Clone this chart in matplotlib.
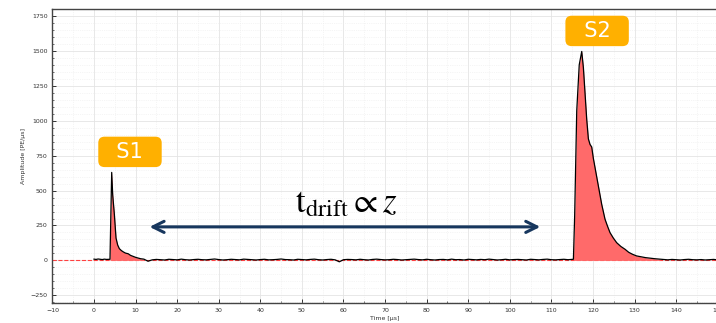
import numpy as np
import matplotlib.pyplot as plt
from matplotlib.ticker import MultipleLocator

plt.rcParams['mathtext.fontset'] = 'stix'

# waveform pieces (time in us, amplitude in PE/us)
pre_t = [0.0, 0.5, 1.0, 1.5, 2.0, 2.5, 3.0, 3.5]
pre_a = [9, 7, 10, 8, 6, 9, 7, 8]

s1_t = [3.85, 4.05, 4.26, 4.5, 4.9, 5.3, 5.7, 6.1, 6.6, 7.1, 7.6, 8.2, 8.8, 9.4, 10.0, 10.6, 11.2, 12.0]
s1_a = [8, 300, 630, 470, 330, 160, 110, 84, 70, 60, 52, 48, 36, 29, 22, 17, 12, 9]

drift_t = list(range(13, 115))
drift_a = [-6, 4, 7, 5, 3, 8, 6, 4, 9, 5, 3, 6, 8, 5, 4, 7, 10, 6, 3, 5,
           8, 6, 4, 9, 7, 5, 3, 6, 8, 4, 5, 7, 10, 6, 5, 3, 8, 6, 4, 7,
           9, 5, 3, 6, 8, 4, -10, 5, 7, 6, 4, 8, 5, 3, 7, 9, 6, 4, 5, 8,
           6, 3, 5, 7, 9, 6, 4, 8, 5, 3, 6, 7, 4, 9, 5, 6, 3, 8, 6, 4,
           7, 5, 9, 6, 3, 5, 8, 4, 6, 7, 5, 3, 8, 6, 4, 7, 9, 5, 4, 6,
           8, 5]

s2_t = [115.3, 115.6, 116.1, 116.7, 117.3, 117.7, 118.1, 118.5, 118.9, 119.3, 119.7,
        120.1, 120.5, 121.3, 122.1, 122.9, 123.5, 124.1, 124.9, 125.7, 126.7,
        127.7, 128.6, 129.5, 130.5, 131.5, 132.6, 133.7, 134.9, 136.1]
s2_a = [8, 320, 1071, 1400, 1496, 1380, 1190, 1010, 870, 830, 812,
        730, 665, 534, 402, 295, 245, 199, 160, 127, 100,
        80, 58, 44, 32, 26, 20, 16, 12, 9]

tail_t = [137, 138, 139, 140, 141, 142, 143, 144, 145, 146, 147, 148, 149, 150]
tail_a = [6, 4, 7, 5, 3, 6, 8, 5, 4, 6, 3, 5, 7, 4]

t = np.array(pre_t + s1_t + drift_t + s2_t + tail_t, dtype=float)
a = np.array(pre_a + s1_a + drift_a + s2_a + tail_a, dtype=float)

fig = plt.figure(figsize=(7.16, 3.23), dpi=100)
ax = fig.add_axes([52.4 / 716, 20 / 323, 665.3 / 716, 294 / 323])

ax.axhline(0, color='#ff4040', ls='--', lw=0.8, zorder=1)
in_s1 = (t >= s1_t[0]) & (t <= s1_t[-1])
in_s2 = (t >= s2_t[0]) & (t <= s2_t[-1])
ax.fill_between(t, 0, a, where=in_s1, color='#ff6a6a', lw=0, zorder=2)
ax.fill_between(t, 0, a, where=in_s2, color='#ff6a6a', lw=0, zorder=2)
ax.plot(t, a, color='black', lw=0.9, zorder=3)

ax.set_xlim(-10, 150)
ax.set_ylim(-305, 1800)
ax.xaxis.set_major_locator(MultipleLocator(10))
ax.xaxis.set_minor_locator(MultipleLocator(5))
ax.yaxis.set_major_locator(MultipleLocator(250))
ax.yaxis.set_minor_locator(MultipleLocator(50))
ax.grid(which='major', color='#e4e4e4', lw=0.6)
ax.grid(which='minor', color='#ececec', lw=0.5, ls=':')
ax.set_axisbelow(True)

ax.tick_params(which='both', direction='in', labelsize=4.5, colors='#333333')
ax.tick_params(which='major', length=3, width=0.7)
ax.tick_params(which='minor', length=1.5, width=0.5)
for s in ax.spines.values():
    s.set_color('#444444')
    s.set_linewidth(1.0)

ax.set_xlabel('Time [µs]', fontsize=4.5, color='#333333', labelpad=2)
ax.set_ylabel('Amplitude [PE/µs]', fontsize=4.5, color='#333333', labelpad=3)

box = dict(boxstyle='round,pad=0.25,rounding_size=0.3', fc='#ffb000', ec='none')
ax.text(8.66, 777, '  S1  ', fontsize=15, color='white', ha='center', va='center', bbox=box, zorder=5)
ax.text(121.0, 1643, '  S2  ', fontsize=15, color='white', ha='center', va='center', bbox=box, zorder=5)

ax.annotate('', xy=(12.7, 240), xytext=(108.0, 240),
            arrowprops=dict(arrowstyle='<->', color='#17375e', lw=2.2, mutation_scale=20))
ax.text(60.6, 420, r'$\mathrm{t_{drift}} \propto z$', fontsize=25, ha='center', va='center', color='black')

fig.savefig('out.png', dpi=100)
